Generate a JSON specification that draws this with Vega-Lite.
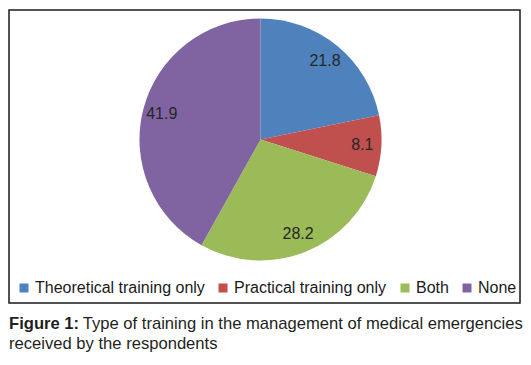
{
  "$schema": "https://vega.github.io/schema/vega-lite/v6.json",
  "width": 511,
  "height": 293,
  "padding": {"left": 9, "top": 10, "right": 11, "bottom": 5},
  "background": "white",
  "view": {"stroke": "#1a1a1a", "strokeWidth": 1.5},
  "config": {
    "view": {"stroke": "#1a1a1a", "strokeWidth": 1.5},
    "font": "Liberation Sans"
  },
  "title": {
    "text": "Figure 1:",
    "subtitle": ["\u200b\u00a0\u00a0\u00a0\u00a0\u00a0\u00a0\u00a0\u00a0\u00a0\u00a0\u00a0\u00a0\u00a0\u00a0\u00a0\u00a0Type of training in the management of medical emergencies", "received by the respondents"],
    "orient": "bottom",
    "anchor": "start",
    "frame": "bounds",
    "offset": 13,
    "font": "Liberation Sans",
    "fontSize": 16.6,
    "fontWeight": "bold",
    "color": "#231f20",
    "subtitleFont": "Liberation Sans",
    "subtitleFontSize": 16.6,
    "subtitleFontWeight": "normal",
    "subtitleColor": "#231f20",
    "subtitleLineHeight": 20,
    "subtitlePadding": -16.6,
    "baseline": "top"
  },
  "data": {
    "values": [
      {"type": "Theoretical training only", "value": 21.8, "order": 1},
      {"type": "Practical training only", "value": 8.1, "order": 2},
      {"type": "Both", "value": 28.2, "order": 3},
      {"type": "None", "value": 41.9, "order": 4}
    ]
  },
  "encoding": {
    "theta": {"field": "value", "type": "quantitative", "stack": true},
    "order": {"field": "order", "type": "quantitative"},
    "color": {
      "field": "type",
      "type": "nominal",
      "sort": ["Theoretical training only", "Practical training only", "Both", "None"],
      "scale": {
        "domain": ["Theoretical training only", "Practical training only", "Both", "None"],
        "range": ["#4F81BD", "#C0504D", "#9BBB59", "#8064A2"]
      },
      "legend": {
        "title": null,
        "orient": "bottom-left",
        "direction": "horizontal",
        "offset": 7,
        "symbolType": "square",
        "symbolSize": 81,
        "symbolStrokeWidth": 0,
        "labelFontSize": 16,
        "labelFont": "Liberation Sans",
        "labelColor": "#1a1a1a",
        "labelOffset": 3,
        "columnPadding": 10,
        "labelLimit": 300
      }
    }
  },
  "layer": [
    {
      "mark": {"type": "arc", "radius": 121, "x": {"expr": "width/2 - 4"}, "y": {"expr": "height/2 - 17"}}
    },
    {
      "mark": {"type": "text", "radius": 102, "x": {"expr": "width/2 - 4"}, "y": {"expr": "height/2 - 17"}, "fontSize": 16, "font": "Liberation Sans", "fill": "#262626"},
      "encoding": {
        "text": {"field": "value", "type": "quantitative", "format": ".1f"},
        "color": {"value": "#262626"}
      }
    }
  ]
}
